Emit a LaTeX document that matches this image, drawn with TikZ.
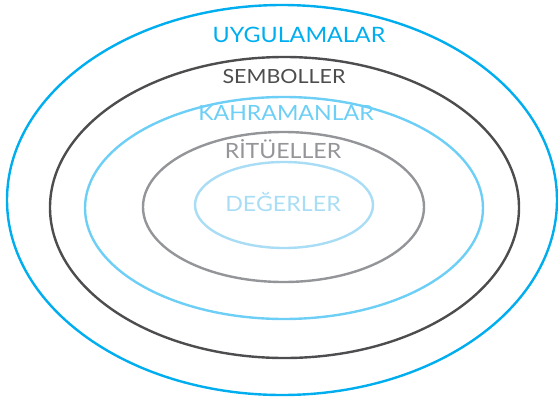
\documentclass[tikz,border=0pt]{standalone}
\usepackage{fontspec}
\setmainfont{Lato}[FakeStretch=1.1]
\definecolor{cBlue}{HTML}{00AEEF}
\definecolor{cDark}{HTML}{4D4D4F}
\definecolor{cLight}{HTML}{6DCFF6}
\definecolor{cGray}{HTML}{939598}
\definecolor{cPale}{HTML}{A8DDF5}
\tikzset{ring/.style={line width=2.4pt},
  lbl/.style={inner sep=0pt, anchor=center}}
\begin{document}
\begin{tikzpicture}[x=1pt,y=-1pt]
\useasboundingbox (0,0) rectangle (558,397);
\draw[ring,cBlue] (282,200) ellipse [x radius=275, y radius=195];
\draw[ring,cDark] (284.5,207.5) ellipse [x radius=234.5, y radius=150.5];
\draw[ring,cLight] (284,208) ellipse [x radius=199, y radius=111];
\draw[ring,cGray] (283.5,207) ellipse [x radius=140.5, y radius=75];
\draw[ring,cPale] (284,205) ellipse [x radius=89, y radius=43];
\node[lbl,text=cBlue,font=\fontsize{21.2}{21}\selectfont] (u) at (299,35) {UYGULAMALAR};
\node[lbl,text=cDark,font=\fontsize{19.5}{19}\selectfont] (s) at (284,77) {SEMBOLLER};
\node[lbl,text=cLight,font=\fontsize{21}{21}\selectfont] (k) at (286,112.5) {KAHRAMANLAR};
\node[lbl,text=cGray,font=\fontsize{21}{21}\selectfont] (r) at (283,149) {RİTÜELLER};
\node[lbl,text=cPale,font=\fontsize{21.1}{21}\selectfont] (d) at (283,202.5) {DEĞERLER};
\end{tikzpicture}
\end{document}
